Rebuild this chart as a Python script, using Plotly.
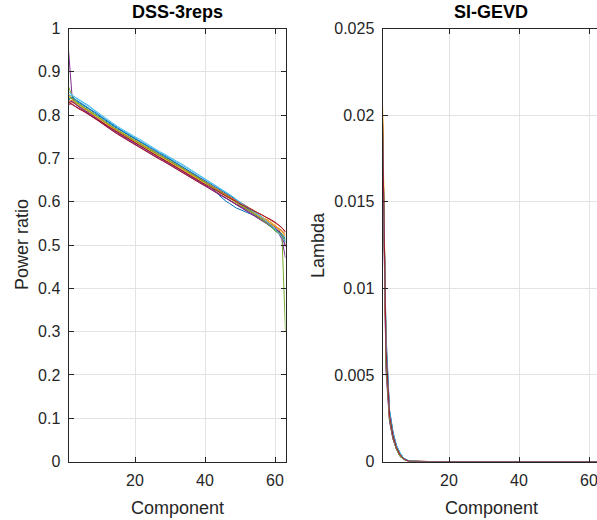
import plotly.graph_objects as go

components = list(range(1, 64))

colors = ["#0072BD", "#D95319", "#EDB120", "#7E2F8E", "#77AC30", "#4DBEEE", "#A2142F"]

# ---- DSS-3reps: power ratio per component (one list per repetition) ----
dss_1 = [0.835,0.840,0.834,0.828,0.824,0.818,0.813,0.808,0.801,0.796,
         0.790,0.784,0.779,0.773,0.768,0.764,0.758,0.754,0.749,0.745,
         0.739,0.735,0.730,0.724,0.719,0.714,0.710,0.705,0.701,0.697,
         0.691,0.687,0.683,0.678,0.672,0.668,0.662,0.657,0.652,0.646,
         0.640,0.633,0.624,0.615,0.607,0.601,0.596,0.590,0.585,0.582,
         0.578,0.575,0.572,0.569,0.565,0.560,0.554,0.548,0.541,0.534,
         0.527,0.519,0.507]
dss_2 = [0.830,0.830,0.825,0.821,0.816,0.811,0.806,0.800,0.794,0.788,
         0.783,0.777,0.771,0.766,0.760,0.756,0.751,0.747,0.742,0.737,
         0.733,0.728,0.723,0.717,0.712,0.708,0.703,0.699,0.694,0.690,
         0.685,0.680,0.676,0.671,0.666,0.661,0.656,0.651,0.646,0.641,
         0.637,0.632,0.627,0.622,0.617,0.613,0.608,0.603,0.598,0.594,
         0.589,0.584,0.580,0.575,0.571,0.566,0.561,0.557,0.551,0.546,
         0.540,0.533,0.525]
dss_3 = [0.850,0.838,0.831,0.826,0.821,0.816,0.811,0.805,0.799,0.794,
         0.788,0.782,0.776,0.771,0.766,0.761,0.757,0.752,0.747,0.742,
         0.738,0.733,0.728,0.722,0.717,0.713,0.708,0.704,0.699,0.695,
         0.690,0.685,0.681,0.676,0.671,0.666,0.661,0.656,0.651,0.646,
         0.641,0.636,0.631,0.626,0.621,0.617,0.612,0.607,0.602,0.597,
         0.592,0.587,0.582,0.577,0.572,0.567,0.562,0.557,0.551,0.545,
         0.538,0.530,0.520]
dss_4 = [0.950,0.845,0.825,0.818,0.813,0.808,0.802,0.796,0.790,0.785,
         0.779,0.773,0.767,0.762,0.757,0.752,0.747,0.743,0.738,0.733,
         0.729,0.724,0.719,0.713,0.708,0.704,0.699,0.695,0.690,0.686,
         0.681,0.676,0.672,0.667,0.662,0.657,0.652,0.647,0.642,0.637,
         0.632,0.627,0.622,0.617,0.612,0.608,0.603,0.598,0.593,0.588,
         0.583,0.578,0.573,0.568,0.563,0.558,0.553,0.548,0.542,0.536,
         0.528,0.512,0.470]
dss_5 = [0.866,0.845,0.832,0.825,0.820,0.815,0.809,0.803,0.797,0.792,
         0.786,0.780,0.774,0.769,0.764,0.759,0.754,0.750,0.745,0.740,
         0.736,0.731,0.726,0.720,0.715,0.711,0.706,0.702,0.697,0.693,
         0.688,0.683,0.679,0.674,0.669,0.664,0.659,0.654,0.649,0.644,
         0.639,0.634,0.629,0.624,0.619,0.614,0.609,0.603,0.597,0.592,
         0.587,0.582,0.577,0.572,0.567,0.562,0.557,0.552,0.545,0.532,
         0.527,0.519,0.300]
dss_6 = [0.845,0.846,0.840,0.834,0.829,0.824,0.819,0.812,0.806,0.800,
         0.794,0.788,0.782,0.777,0.772,0.767,0.762,0.758,0.753,0.748,
         0.744,0.739,0.734,0.728,0.723,0.719,0.714,0.710,0.705,0.701,
         0.696,0.691,0.687,0.682,0.677,0.672,0.667,0.662,0.657,0.652,
         0.647,0.642,0.637,0.632,0.627,0.622,0.616,0.611,0.605,0.600,
         0.595,0.590,0.585,0.579,0.573,0.566,0.558,0.551,0.545,0.539,
         0.532,0.524,0.512]
dss_7 = [0.825,0.826,0.820,0.816,0.811,0.806,0.801,0.795,0.789,0.784,
         0.778,0.772,0.766,0.761,0.756,0.751,0.746,0.742,0.737,0.732,
         0.728,0.723,0.718,0.712,0.707,0.703,0.698,0.694,0.689,0.685,
         0.680,0.675,0.671,0.666,0.661,0.656,0.651,0.646,0.641,0.637,
         0.632,0.627,0.622,0.617,0.613,0.608,0.604,0.599,0.594,0.590,
         0.586,0.581,0.577,0.572,0.568,0.563,0.558,0.553,0.548,0.542,
         0.535,0.522,0.500]
dss_8 = [0.838,0.842,0.836,0.831,0.826,0.821,0.816,0.810,0.804,0.798,
         0.792,0.786,0.780,0.775,0.770,0.765,0.760,0.756,0.751,0.746,
         0.742,0.737,0.732,0.726,0.721,0.717,0.712,0.708,0.703,0.699,
         0.694,0.689,0.685,0.680,0.675,0.670,0.665,0.660,0.655,0.650,
         0.645,0.640,0.635,0.630,0.625,0.620,0.615,0.609,0.603,0.597,
         0.591,0.586,0.580,0.575,0.569,0.563,0.557,0.551,0.545,0.539,
         0.532,0.525,0.515]
dss_9 = [0.832,0.834,0.827,0.822,0.817,0.812,0.807,0.801,0.795,0.790,
         0.784,0.779,0.773,0.768,0.763,0.759,0.754,0.750,0.745,0.741,
         0.737,0.732,0.727,0.721,0.716,0.712,0.707,0.703,0.698,0.694,
         0.689,0.684,0.680,0.675,0.670,0.665,0.660,0.655,0.650,0.645,
         0.641,0.636,0.631,0.626,0.621,0.617,0.612,0.607,0.602,0.598,
         0.593,0.589,0.584,0.580,0.575,0.571,0.566,0.562,0.557,0.552,
         0.546,0.539,0.530]
dss_10 = [0.845,0.836,0.828,0.822,0.817,0.812,0.807,0.801,0.795,0.790,
          0.784,0.778,0.772,0.767,0.762,0.757,0.752,0.748,0.743,0.738,
          0.734,0.729,0.724,0.718,0.713,0.709,0.704,0.700,0.695,0.691,
          0.686,0.681,0.677,0.672,0.667,0.662,0.657,0.652,0.647,0.642,
          0.637,0.632,0.627,0.622,0.617,0.613,0.608,0.603,0.598,0.593,
          0.588,0.583,0.578,0.574,0.569,0.564,0.559,0.554,0.549,0.543,
          0.537,0.530,0.520]
dss_11 = [0.828,0.832,0.825,0.819,0.814,0.809,0.804,0.798,0.792,0.787,
          0.781,0.775,0.769,0.764,0.759,0.754,0.749,0.745,0.740,0.735,
          0.731,0.726,0.721,0.715,0.710,0.706,0.701,0.697,0.692,0.688,
          0.683,0.678,0.674,0.669,0.664,0.659,0.654,0.649,0.644,0.639,
          0.634,0.629,0.624,0.619,0.614,0.610,0.605,0.600,0.595,0.590,
          0.585,0.580,0.575,0.570,0.565,0.560,0.555,0.550,0.544,0.538,
          0.531,0.520,0.495]
dss_12 = [0.840,0.838,0.830,0.825,0.820,0.815,0.810,0.804,0.798,0.793,
          0.787,0.781,0.775,0.770,0.765,0.760,0.755,0.751,0.746,0.741,
          0.737,0.732,0.727,0.721,0.716,0.712,0.707,0.703,0.698,0.694,
          0.689,0.684,0.680,0.675,0.670,0.665,0.660,0.655,0.650,0.645,
          0.640,0.635,0.630,0.625,0.620,0.615,0.610,0.604,0.598,0.593,
          0.588,0.583,0.578,0.572,0.566,0.560,0.554,0.548,0.543,0.537,
          0.531,0.523,0.510]
dss_13 = [0.855,0.846,0.841,0.836,0.831,0.826,0.821,0.814,0.808,0.802,
          0.796,0.790,0.784,0.779,0.774,0.769,0.764,0.760,0.755,0.750,
          0.746,0.741,0.736,0.730,0.725,0.721,0.716,0.712,0.707,0.703,
          0.698,0.693,0.689,0.684,0.679,0.674,0.669,0.664,0.659,0.654,
          0.649,0.644,0.639,0.633,0.628,0.623,0.617,0.611,0.604,0.598,
          0.592,0.587,0.582,0.577,0.572,0.566,0.559,0.552,0.545,0.537,
          0.528,0.518,0.505]
dss_14 = [0.830,0.824,0.818,0.814,0.810,0.805,0.800,0.795,0.790,0.785,
          0.780,0.775,0.770,0.765,0.760,0.755,0.750,0.746,0.741,0.736,
          0.732,0.727,0.722,0.716,0.711,0.707,0.702,0.698,0.693,0.689,
          0.684,0.679,0.675,0.670,0.665,0.660,0.655,0.650,0.645,0.640,
          0.636,0.631,0.627,0.622,0.618,0.613,0.609,0.604,0.600,0.595,
          0.591,0.587,0.583,0.578,0.574,0.570,0.566,0.562,0.558,0.553,
          0.547,0.540,0.530]

dss_series = [dss_1, dss_2, dss_3, dss_4, dss_5, dss_6, dss_7,
              dss_8, dss_9, dss_10, dss_11, dss_12, dss_13, dss_14]

# ---- SI-GEVD: lambda per component (first components; the rest read as 0) ----
zero_tail = [0.0] * 53
gevd_1 = [0.0195, 0.0068, 0.0028, 0.0016, 0.0009, 0.00045, 0.0002, 0.00007, 0.00002, 0.0] + zero_tail
gevd_2 = [0.0200, 0.0062, 0.0026, 0.0015, 0.0008, 0.0004, 0.00018, 0.00006, 0.00001, 0.0] + zero_tail
gevd_3 = [0.0208, 0.0070, 0.0029, 0.0016, 0.0008, 0.0004, 0.00017, 0.00006, 0.00001, 0.0] + zero_tail
gevd_4 = [0.0190, 0.0052, 0.0023, 0.0013, 0.0007, 0.0003, 0.00014, 0.00005, 0.00001, 0.0] + zero_tail
gevd_5 = [0.0198, 0.0058, 0.0024, 0.0013, 0.0007, 0.0003, 0.00013, 0.00004, 0.00001, 0.0] + zero_tail
gevd_6 = [0.0193, 0.0066, 0.0029, 0.0017, 0.0009, 0.0005, 0.0002, 0.00008, 0.00002, 0.0] + zero_tail
gevd_7 = [0.0197, 0.0064, 0.0027, 0.0015, 0.0008, 0.0004, 0.00017, 0.00006, 0.00001, 0.0] + zero_tail
gevd_8 = [0.0192, 0.0074, 0.0030, 0.0017, 0.0009, 0.0005, 0.0002, 0.00008, 0.00002, 0.0] + zero_tail
gevd_9 = [0.0199, 0.0060, 0.0025, 0.0014, 0.0008, 0.0004, 0.00016, 0.00005, 0.00001, 0.0] + zero_tail
gevd_10 = [0.0205, 0.0063, 0.0026, 0.0015, 0.0008, 0.0004, 0.00015, 0.00005, 0.00001, 0.0] + zero_tail
gevd_11 = [0.0188, 0.0055, 0.0024, 0.0013, 0.0007, 0.0003, 0.00013, 0.00004, 0.00001, 0.0] + zero_tail
gevd_12 = [0.0194, 0.0057, 0.0025, 0.0014, 0.0007, 0.0003, 0.00014, 0.00005, 0.00001, 0.0] + zero_tail
gevd_13 = [0.0191, 0.0070, 0.0029, 0.0016, 0.0009, 0.0005, 0.0002, 0.00007, 0.00002, 0.0] + zero_tail
gevd_14 = [0.0197, 0.0065, 0.0027, 0.0015, 0.0008, 0.0004, 0.00017, 0.00006, 0.00001, 0.0] + zero_tail

gevd_series = [gevd_1, gevd_2, gevd_3, gevd_4, gevd_5, gevd_6, gevd_7,
               gevd_8, gevd_9, gevd_10, gevd_11, gevd_12, gevd_13, gevd_14]

left_title = "DSS-3reps"
right_title = "SI-GEVD"
x_label = "Component"
left_ylabel = "Power ratio"
right_ylabel = "Lambda"

W, H = 597, 520
FONT = "Liberation Sans, Arial, Helvetica, sans-serif"
AX = "#262626"
GRID = "#e3e3e3"

fig = go.Figure()
for i, s in enumerate(dss_series):
    fig.add_trace(go.Scatter(x=components, y=s, mode="lines",
                             line=dict(color=colors[i % 7], width=1),
                             xaxis="x", yaxis="y", showlegend=False))
for i, s in enumerate(gevd_series):
    fig.add_trace(go.Scatter(x=components, y=s, mode="lines",
                             line=dict(color=colors[i % 7], width=1),
                             xaxis="x2", yaxis="y2", showlegend=False))

# pixel geometry
L1, R1 = 68.5, 285.5
L2 = 382.5
TOP, BOT = 28.5, 461.5
px_per_unit = (R1 - L1) / 62.0
x2_end = 1 + (W - L2) / px_per_unit

ydom = [(H - BOT) / H, (H - TOP) / H]

common_x = dict(showgrid=True, gridcolor=GRID, gridwidth=1, zeroline=False,
                showline=True, linecolor=AX, linewidth=1, ticks="inside",
                ticklen=5, tickcolor=AX, tickvals=[20, 40, 60], automargin=False,
                ticklabelstandoff=4, ticklabeloverflow="allow",
                tickfont=dict(family=FONT, size=16, color=AX))
common_y = dict(showgrid=True, gridcolor=GRID, gridwidth=1, zeroline=False,
                showline=True, linecolor=AX, linewidth=1, ticks="inside",
                ticklen=5, tickcolor=AX, automargin=False,
                ticklabelstandoff=4,
                tickfont=dict(family=FONT, size=16, color=AX))

fig.update_layout(
    width=W, height=H,
    margin=dict(l=0, r=0, t=0, b=0, pad=0),
    paper_bgcolor="white", plot_bgcolor="white",
    xaxis=dict(domain=[L1 / W, R1 / W], range=[1, 63], mirror="ticks",
               anchor="y", **common_x),
    yaxis=dict(domain=ydom, range=[0, 1], mirror="ticks", anchor="x",
               tickvals=[0, 0.1, 0.2, 0.3, 0.4, 0.5, 0.6, 0.7, 0.8, 0.9, 1],
               ticktext=["0", "0.1", "0.2", "0.3", "0.4", "0.5", "0.6", "0.7", "0.8", "0.9", "1"],
               **common_y),
    xaxis2=dict(domain=[L2 / W, 1.0], range=[1, x2_end], mirror="ticks",
                anchor="y2", **common_x),
    yaxis2=dict(domain=ydom, range=[0, 0.025], mirror=False, anchor="x2",
                tickvals=[0, 0.005, 0.01, 0.015, 0.02, 0.025],
                ticktext=["0", "0.005", "0.01", "0.015", "0.02", "0.025"],
                **common_y),
    font=dict(family=FONT, color=AX),
)

cx1 = (L1 + R1) / 2 / W
cx2 = (L2 + L2 + 217) / 2 / W
ann = []
ann.append(dict(text="<b>" + left_title + "</b>", x=cx1, y=(H - 12) / H,
                xref="paper", yref="paper", showarrow=False, xanchor="center",
                font=dict(family=FONT, size=18, color="black"), yanchor="middle"))
ann.append(dict(text="<b>" + right_title + "</b>", x=cx2, y=(H - 12) / H,
                xref="paper", yref="paper", showarrow=False, xanchor="center",
                font=dict(family=FONT, size=18, color="black"), yanchor="middle"))
ann.append(dict(text=x_label, x=cx1, y=(H - 508) / H,
                xref="paper", yref="paper", showarrow=False, xanchor="center",
                font=dict(family=FONT, size=18, color=AX), yanchor="middle"))
ann.append(dict(text=x_label, x=cx2, y=(H - 508) / H,
                xref="paper", yref="paper", showarrow=False, xanchor="center",
                font=dict(family=FONT, size=18, color=AX), yanchor="middle"))
ann.append(dict(text=left_ylabel, x=22 / W, y=(H - 245) / H, textangle=-90,
                xref="paper", yref="paper", showarrow=False,
                font=dict(family=FONT, size=18, color=AX), xanchor="center", yanchor="middle"))
ann.append(dict(text=right_ylabel, x=318 / W, y=(H - 245) / H, textangle=-90,
                xref="paper", yref="paper", showarrow=False,
                font=dict(family=FONT, size=18, color=AX), xanchor="center", yanchor="middle"))
fig.update_layout(annotations=ann)

fig.write_html("out.html", config={"displayModeBar": False},
               post_script="document.body.style.margin='0';document.body.style.overflow='hidden';")
